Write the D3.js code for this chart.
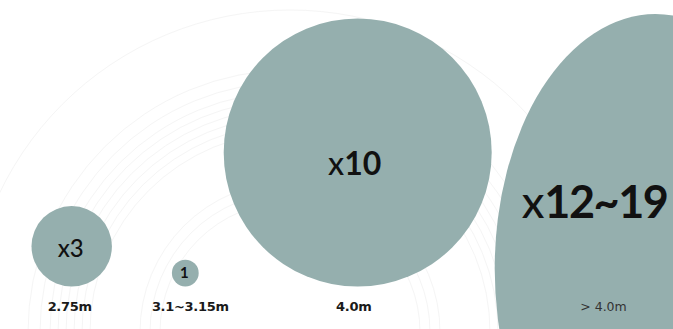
<!DOCTYPE html>
<html>
<head>
<meta charset="utf-8">
<script src="https://cdn.jsdelivr.net/npm/d3@7"></script>
<style>
  html, body { margin: 0; padding: 0; background: #fff; }
  svg { display: block; }
</style>
</head>
<body>
<svg id="chart"></svg>
<script>
// bubble comparison: how many times bigger per length class

const categories = ["2.75m", "3.1~3.15m", "4.0m", "> 4.0m"];
const multLow = [3, 1, 10, 12];
const multHigh = [3, 1, 10, 19];
const multText = ["3", "1", "10", "12~19"];
const hasX = [true, false, true, true];

const width = 673;
const height = 329;

const svg = d3.select("#chart").attr("width", width).attr("height", height);

// faint decorative rings in the background
const ringRadii = [322, 262, 250, 240, 232, 224, 216, 208, 200, 150, 140, 130];
svg.append("g").selectAll("circle")
  .data(ringRadii)
  .join("circle")
  .attr("cx", 290)
  .attr("cy", 332)
  .attr("r", d => d)
  .attr("fill", "none")
  .attr("stroke", "#f5f5f5")
  .attr("stroke-width", 1);

const rScale = d3.scaleLinear().domain([0, 1]).range([0, 13.4]);

// layout
const startX = 31.5;
const gaps = [0, 60, 25, 3];
const baseY = 286.5;
const numSize = [24, 15, 32, 45];
const numY = [257, 278, 175, 218];
const numDx = [-1, -1, -3, -61];
const labelDx = [-2, 5, -4, -52];

const items = [];
let left = startX;
categories.forEach((c, i) => {
  left += gaps[i];
  const rx = rScale(multLow[i]);
  const ry = rScale(multHigh[i]);
  const cx = left + rx;
  const cy = multLow[i] === multHigh[i] ? baseY - ry : 14 + ry;
  items.push({ cat: c, rx, ry, cx, cy, i });
  left = cx + rx;
});

const g = svg.append("g");

g.selectAll("ellipse")
  .data(items)
  .join("ellipse")
  .attr("cx", d => d.cx)
  .attr("cy", d => d.cy)
  .attr("rx", d => d.rx)
  .attr("ry", d => d.ry)
  .attr("fill", "#95afae");

const nums = g.selectAll("text.num")
  .data(items)
  .join("text")
  .attr("class", "num")
  .attr("x", d => d.cx + numDx[d.i])
  .attr("y", d => numY[d.i])
  .attr("text-anchor", "middle")
  .attr("font-family", "Lato, 'Open Sans', sans-serif")
  .attr("font-size", d => numSize[d.i])
  .attr("fill", "#111");

nums.filter(d => hasX[d.i])
  .append("tspan")
  .attr("font-weight", 500)
  .text("x");

nums.append("tspan")
  .attr("font-weight", d => d.i === 0 ? 500 : 700)
  .attr("letter-spacing", d => d.i === 3 ? -1.5 : 0)
  .text(d => multText[d.i]);

g.selectAll("text.cat")
  .data(items)
  .join("text")
  .attr("class", "cat")
  .attr("x", d => d.cx + labelDx[d.i])
  .attr("y", 311)
  .attr("text-anchor", "middle")
  .attr("font-family", "'DejaVu Sans', sans-serif")
  .attr("font-size", d => d.i === 3 ? 12.5 : 13)
  .attr("font-weight", d => d.i === 3 ? 400 : 700)
  .attr("letter-spacing", d => d.i === 3 ? 0 : -0.3)
  .attr("fill", d => d.i === 3 ? "#333" : "#1a1a1a")
  .text(d => d.cat);
</script>
</body>
</html>
